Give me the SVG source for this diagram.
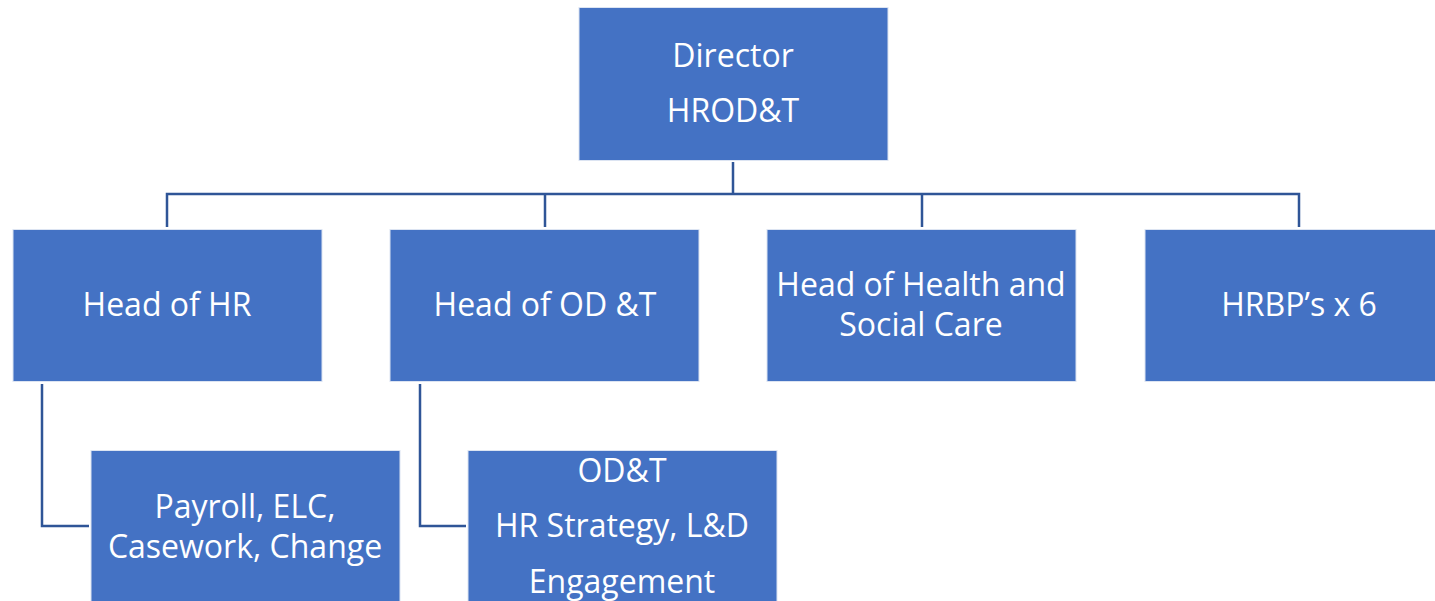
<svg xmlns="http://www.w3.org/2000/svg" width="1435" height="601" viewBox="0 0 1435 601">
<style>
.box{fill:#4472C4;stroke:#DCE4F2;stroke-width:1}
.t{font-family:"Open Sans","Liberation Sans",sans-serif;font-size:32px;fill:#FFFFFF;text-anchor:middle}
.c{fill:none;stroke:#2F5597;stroke-width:2.5}
</style>
<rect width="1435" height="601" fill="#FFFFFF"/>
<g id="connectors">
<path class="c" d="M733,162 V194 M167,227 V194 H1299 V227 M545,194 V227 M922,194 V227"/>
<path class="c" d="M42,384 V526 H89"/>
<path class="c" d="M420,384 V526 H466"/>
</g>
<g id="director">
<rect class="box" x="579" y="7.5" width="309" height="153"/>
<text class="t" x="733" y="67">Director</text>
<text class="t" x="733" y="122">HROD&amp;T</text>
</g>
<g id="head-hr">
<rect class="box" x="13" y="229.5" width="309" height="152"/>
<text class="t" x="167" y="316">Head of HR</text>
</g>
<g id="head-odt">
<rect class="box" x="390" y="229.5" width="309" height="152"/>
<text class="t" x="545" y="316">Head of OD &amp;T</text>
</g>
<g id="head-hsc">
<rect class="box" x="767" y="229.5" width="309" height="152"/>
<text class="t" x="921" y="296">Head of Health and</text>
<text class="t" x="921" y="336">Social Care</text>
</g>
<g id="hrbp">
<rect class="box" x="1145" y="229.5" width="309" height="152"/>
<text class="t" x="1299" y="316">HRBP’s x 6</text>
</g>
<g id="payroll">
<rect class="box" x="91" y="450.5" width="309" height="160"/>
<text class="t" x="245" y="518">Payroll, ELC,</text>
<text class="t" x="245" y="558">Casework, Change</text>
</g>
<g id="odt">
<rect class="box" x="468" y="450.5" width="309" height="160"/>
<text class="t" x="622" y="482">OD&amp;T</text>
<text class="t" x="622" y="537">HR Strategy, L&amp;D</text>
<text class="t" x="622" y="593">Engagement</text>
</g>
</svg>
